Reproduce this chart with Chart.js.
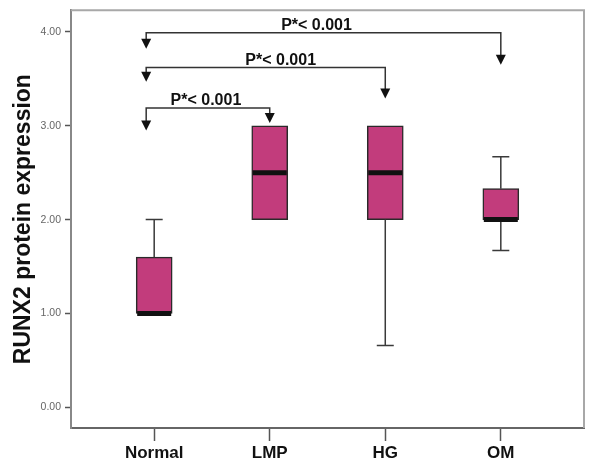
<!DOCTYPE html>
<html>
<head>
<meta charset="utf-8">
<script src="https://cdn.jsdelivr.net/npm/chart.js@4"></script>
<style>
  html, body { margin: 0; padding: 0; background: #fff; }
  #BoxChart { display: block; }
</style>
</head>
<body>
<canvas id="BoxChart" width="589" height="472"></canvas>
<script>
// 그룹별 RUNX2 박스플롯 값
const groups = ['Normal', 'LMP', 'HG', 'OM'];
const whiskerLow = [1.00, 2.00, 0.66, 1.67];
const q1 = [1.00, 2.00, 2.00, 2.00];
const median = [1.00, 2.50, 2.50, 2.00];
const q3 = [1.60, 3.00, 3.00, 2.33];
const whiskerHigh = [2.00, 3.00, 3.00, 2.67];
const yTicks = [0, 1, 2, 3, 4];

// 비교 화살표: 왼쪽 그룹, 오른쪽 그룹, 가로선 높이, 화살표 끝 높이
const compFrom = [0, 0, 0];
const compTo = [3, 2, 1];
const compLevel = [3.99, 3.62, 3.19];
const compLeftTip = [3.82, 3.47, 2.95];
const compRightTip = [3.65, 3.29, 3.03];
const compLabelX = [1.405, 1.095, 0.448];
const compLabel = ['P*< 0.001', 'P*< 0.001', 'P*< 0.001'];

const BOX_COLOR = '#c23c7c';

// 위/오른쪽 테두리
const framePlugin = {
    id: 'framePlugin',
    beforeDatasetsDraw: (chart) => {
        const { ctx, chartArea } = chart;
        ctx.save();
        ctx.strokeStyle = '#a8a8a8';
        ctx.lineWidth = 2;
        ctx.beginPath();
        ctx.moveTo(chartArea.left, chartArea.top);
        ctx.lineTo(chartArea.right, chartArea.top);
        ctx.lineTo(chartArea.right, chartArea.bottom);
        ctx.stroke();
        ctx.restore();
    }
};

// 수염, 중앙값, 비교 화살표
const boxExtrasPlugin = {
    id: 'boxExtrasPlugin',
    afterDatasetsDraw: (chart) => {
        const { ctx } = chart;
        const xs = chart.scales.x;
        const ys = chart.scales.y;
        ctx.save();

        groups.forEach((g, i) => {
            const cx = xs.getPixelForValue(i);
            ctx.strokeStyle = '#3a3a3a';
            ctx.lineWidth = 1.5;
            if (whiskerHigh[i] > q3[i]) {
                ctx.beginPath();
                ctx.moveTo(cx, ys.getPixelForValue(q3[i]));
                ctx.lineTo(cx, ys.getPixelForValue(whiskerHigh[i]));
                ctx.moveTo(cx - 8.5, ys.getPixelForValue(whiskerHigh[i]));
                ctx.lineTo(cx + 8.5, ys.getPixelForValue(whiskerHigh[i]));
                ctx.stroke();
            }
            if (whiskerLow[i] < q1[i]) {
                ctx.beginPath();
                ctx.moveTo(cx, ys.getPixelForValue(q1[i]));
                ctx.lineTo(cx, ys.getPixelForValue(whiskerLow[i]));
                ctx.moveTo(cx - 8.5, ys.getPixelForValue(whiskerLow[i]));
                ctx.lineTo(cx + 8.5, ys.getPixelForValue(whiskerLow[i]));
                ctx.stroke();
            }
            // 중앙값 굵은 선
            ctx.strokeStyle = '#111';
            ctx.lineWidth = 5;
            ctx.beginPath();
            ctx.moveTo(cx - 17, ys.getPixelForValue(median[i]));
            ctx.lineTo(cx + 17, ys.getPixelForValue(median[i]));
            ctx.stroke();
        });

        const arrowHead = (x, tipY) => {
            ctx.beginPath();
            ctx.moveTo(x - 5, tipY - 10);
            ctx.lineTo(x + 5, tipY - 10);
            ctx.lineTo(x, tipY);
            ctx.closePath();
            ctx.fill();
        };

        compFrom.forEach((from, k) => {
            const lx = xs.getPixelForValue(from) - 8;
            const rx = xs.getPixelForValue(compTo[k]);
            const ly = ys.getPixelForValue(compLevel[k]);
            const lTip = ys.getPixelForValue(compLeftTip[k]);
            const rTip = ys.getPixelForValue(compRightTip[k]);
            ctx.strokeStyle = '#333';
            ctx.fillStyle = '#111';
            ctx.lineWidth = 1.5;
            ctx.beginPath();
            ctx.moveTo(lx, lTip - 8);
            ctx.lineTo(lx, ly);
            ctx.lineTo(rx, ly);
            ctx.lineTo(rx, rTip - 8);
            ctx.stroke();
            arrowHead(lx, lTip);
            arrowHead(rx, rTip);

            ctx.font = 'bold 16px Arial, "Liberation Sans", sans-serif';
            ctx.fillStyle = '#111';
            ctx.textAlign = 'center';
            ctx.textBaseline = 'alphabetic';
            ctx.fillText(compLabel[k], xs.getPixelForValue(compLabelX[k]), ly - 3);
        });

        ctx.restore();
    }
};

const box_chart = () => {
    const ctx = document.getElementById('BoxChart');
    if (!ctx) return;

    new Chart(ctx, {
        type: 'bar',
        data: {
            datasets: [{
                data: groups.map((g, i) => ({ x: i, y: [q1[i], q3[i]] })),
                backgroundColor: BOX_COLOR,
                borderColor: '#2a2a2a',
                borderWidth: 1.5,
                borderSkipped: false,
                barThickness: 36
            }]
        },
        options: {
            responsive: false,
            animation: false,
            layout: { padding: { left: 0, top: 8, right: 5, bottom: 0 } },
            plugins: {
                legend: { display: false },
                tooltip: { enabled: false }
            },
            scales: {
                x: {
                    type: 'linear',
                    min: -0.72,
                    max: 3.72,
                    offset: false,
                    afterBuildTicks: (scale) => {
                        scale.ticks = groups.map((g, i) => ({ value: i }));
                    },
                    afterFit: (scale) => { scale.height = 44; },
                    ticks: {
                        callback: (value) => groups[value],
                        font: { family: 'Arial, "Liberation Sans", sans-serif', size: 17, weight: 'bold' },
                        color: '#111',
                        padding: 2,
                        maxRotation: 0,
                        autoSkip: false
                    },
                    grid: {
                        offset: false,
                        drawOnChartArea: false,
                        tickLength: 13,
                        tickColor: '#555',
                        tickWidth: 1.5
                    },
                    border: { color: '#666', width: 2 }
                },
                y: {
                    min: -0.22,
                    max: 4.23,
                    afterBuildTicks: (scale) => {
                        scale.ticks = yTicks.map(v => ({ value: v }));
                    },
                    afterFit: (scale) => { scale.width = 71; },
                    ticks: {
                        callback: (value) => value.toFixed(2),
                        font: { family: 'Arial, "Liberation Sans", sans-serif', size: 10.5 },
                        color: '#666',
                        padding: 4
                    },
                    grid: {
                        drawOnChartArea: false,
                        tickLength: 6,
                        tickColor: '#555',
                        tickWidth: 1.5
                    },
                    border: { color: '#888', width: 2 },
                    title: {
                        display: true,
                        text: 'RUNX2 protein expression',
                        font: { family: 'Arial, "Liberation Sans", sans-serif', size: 23, weight: 'bold' },
                        color: '#111',
                        padding: { top: 10, bottom: 0 }
                    }
                }
            }
        },
        plugins: [framePlugin, boxExtrasPlugin]
    });
};

document.addEventListener('DOMContentLoaded', () => {
    box_chart();
});
</script>
</body>
</html>
